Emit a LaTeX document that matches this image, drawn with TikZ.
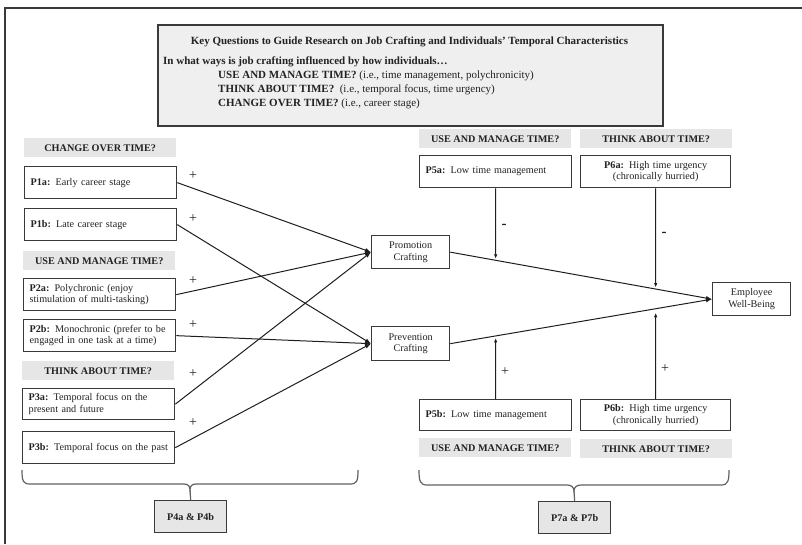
\documentclass[tikz,border=0pt]{standalone}
\usepackage{fontspec}
\setmainfont{Liberation Serif}
\usetikzlibrary{arrows.meta,calc}
\definecolor{headc}{HTML}{E6E6E6}
\definecolor{keyc}{HTML}{EFEFEF}
\definecolor{bordc}{HTML}{3A3A3A}
\definecolor{linec}{HTML}{1E1E1E}
\definecolor{txtc}{HTML}{222222}
\newcommand{\fsz}{\fontsize{10.2}{11.5}\selectfont}
\newcommand{\fkey}{\fontsize{11}{12}\selectfont}
\begin{document}
\begin{tikzpicture}[x=1pt,y=-1pt,
  every node/.style={text=txtc},
  lbox/.style={draw=bordc, line width=1.3pt, fill=white, anchor=north west, inner xsep=6pt, inner ysep=0pt, font=\fsz, align=left, text width=140pt, minimum height=32pt},
  cbox/.style={lbox, align=center},
  mbox/.style={draw=bordc, line width=1.3pt, fill=white, anchor=north west, inner sep=0pt, font=\fsz, align=center, minimum width=78pt, minimum height=33pt},
  head/.style={fill=headc, anchor=north west, minimum width=152pt, minimum height=19pt, inner sep=0pt, font=\fsz\bfseries},
  pbox/.style={draw=bordc, line width=1.3pt, fill=headc, anchor=north west, minimum width=72pt, minimum height=32pt, inner sep=0pt, font=\fsz\bfseries},
  keyline/.style={anchor=west, inner sep=0pt, font=\fkey},
  conn/.style={draw=linec, line width=1pt, -{Latex[length=6pt,width=4.5pt]}},
  vconn/.style={draw=linec, line width=1pt, -{Latex[length=4.5pt,width=3.5pt]}},
  brace/.style={draw=bordc!80, line width=1.2pt},
  sign/.style={inner sep=0pt, font=\fontsize{14}{14}\selectfont},
  msign/.style={inner sep=0pt, font=\fontsize{15}{15}\selectfont\bfseries}
]
\useasboundingbox (0,0) rectangle (802,544);
% frame
\draw[draw=bordc, line width=1.8pt] (802,8) -- (5,8) -- (5,544);

% key box
\node[draw=bordc, line width=1.5pt, fill=keyc, anchor=north west, minimum width=505pt, minimum height=101pt, inner sep=0pt] (key) at (157,24) {};
\node[inner sep=0pt, font=\fkey\bfseries] (ktitle) at (409.5,42) {Key Questions to Guide Research on Job Crafting and Individuals’ Temporal Characteristics};
\node[keyline] (k1) at (163,62) {\textbf{In what ways is job crafting influenced by how individuals…}};
\node[keyline] (k2) at (218,76) {\textbf{USE AND MANAGE TIME?} (i.e., time management, polychronicity)};
\node[keyline] (k3) at (218,90) {\textbf{THINK ABOUT TIME?}\ \ (i.e., temporal focus, time urgency)};
\node[keyline] (k4) at (218,104) {\textbf{CHANGE OVER TIME?} (i.e., career stage)};

% left column
\node[head] (hcot) at (24,138) {CHANGE OVER TIME?};
\node[lbox] (p1a) at (24,166) {\textbf{P1a:} Early career stage};
\node[lbox] (p1b) at (24,208) {\textbf{P1b:} Late career stage};
\node[head] (humt) at (23,251) {USE AND MANAGE TIME?};
\node[lbox] (p2a) at (23,278) {\textbf{P2a:} Polychronic (enjoy\\stimulation of multi-tasking)};
\node[lbox] (p2b) at (23,319) {\textbf{P2b:} Monochronic (prefer to be\\engaged in one task at a time)};
\node[head] (hat) at (22,361) {THINK ABOUT TIME?};
\node[lbox, minimum height=31pt] (p3a) at (22,388) {\textbf{P3a:} Temporal focus on the\\present and future};
\node[lbox] (p3b) at (22,431) {\textbf{P3b:} Temporal focus on the past};

% middle
\node[mbox] (prom) at (371,235) {Promotion\\Crafting};
\node[mbox, minimum height=34pt] (prev) at (371,326) {Prevention\\Crafting};
\node[mbox] (wb) at (712,282) {Employee\\Well-Being};

% right top
\node[head] (hr1) at (419,129) {USE AND MANAGE TIME?};
\node[head] (hr2) at (580,129) {THINK ABOUT TIME?};
\node[lbox] (p5a) at (419,155) {\textbf{P5a:} Low time management};
\node[cbox, text width=138pt] (p6a) at (580,155) {\textbf{P6a:} High time urgency\\(chronically hurried)};
% right bottom
\node[lbox, minimum height=31pt] (p5b) at (419,399) {\textbf{P5b:} Low time management};
\node[cbox, text width=138pt, minimum height=31pt] (p6b) at (580,399) {\textbf{P6b:} High time urgency\\(chronically hurried)};
\node[head] (hr3) at (419,438) {USE AND MANAGE TIME?};
\node[head] (hr4) at (580,439) {THINK ABOUT TIME?};

% bottom boxes
\node[pbox] (p4) at (154,500) {P4a \& P4b};
\node[pbox] (p7) at (538,501) {P7a \& P7b};

% left connectors
\draw[conn] (p1a.east) -- (prom.west);
\draw[conn] (p1b.east) -- (prev.west);
\draw[conn] (p2a.east) -- (prom.west);
\draw[conn] (p2b.east) -- (prev.west);
\draw[conn] (p3a.east) -- (prom.west);
\draw[conn] (p3b.east) -- (prev.west);
\node[sign] (s1) at (193,176) {+};
\node[sign] (s2) at (193,219) {+};
\node[sign] (s3) at (193,281) {+};
\node[sign] (s4) at (193,325) {+};
\node[sign] (s5) at (193,374) {+};
\node[sign] (s6) at (193,423) {+};

% middle to well-being
\draw[conn] (prom.east) -- (wb.west);
\draw[conn] (prev.east) -- (wb.west);

% moderators
\coordinate (m5a) at (intersection of p5a.south--p5b.north and prom.east--wb.west);
\coordinate (m6a) at (intersection of p6a.south--p6b.north and prom.east--wb.west);
\coordinate (m5b) at (intersection of p5a.south--p5b.north and prev.east--wb.west);
\coordinate (m6b) at (intersection of p6a.south--p6b.north and prev.east--wb.west);
\draw[vconn] (p5a.south) -- ($(m5a)+(0,-1.5)$);
\draw[vconn] (p6a.south) -- ($(m6a)+(0,-1.5)$);
\draw[vconn] (p5b.north) -- ($(m5b)+(0,2)$);
\draw[vconn] (p6b.north) -- ($(m6b)+(0,4)$);
\node[msign] (d1) at (504,226) {-};
\node[msign] (d2) at (664,234) {-};
\node[sign] (s7) at (505,372) {+};
\node[sign] (s8) at (665,369) {+};

% braces
\draw[brace] (22,470) .. controls (22,481) and (23,484) .. (30,484) -- (184,484)
  .. controls (188,484) and (190,486) .. (190,490)
  .. controls (190,486) and (192,484) .. (196,484) -- (350,484)
  .. controls (357,484) and (358,481) .. (358,470);
\coordinate (b4) at (190,490);
\draw[brace] (b4) -- (p4.north);
\draw[brace] (419,470) .. controls (419,481) and (420,485) .. (427,485) -- (567,485)
  .. controls (571,485) and (574,487) .. (574,491)
  .. controls (574,487) and (577,485) .. (581,485) -- (721,485)
  .. controls (728,485) and (729,481) .. (729,470);
\coordinate (b7) at (574,491);
\draw[brace] (b7) -- (p7.north);
\end{tikzpicture}
\end{document}
